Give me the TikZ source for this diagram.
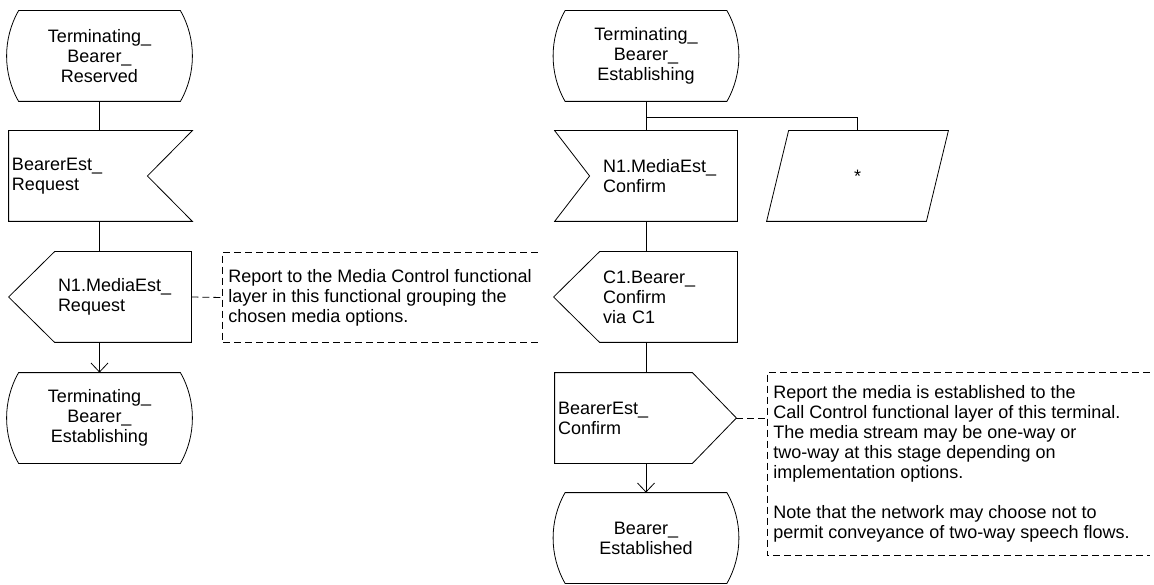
\documentclass[tikz,border=0pt]{standalone}
\usepackage{fontspec}
\setmainfont{Liberation Sans}
\usetikzlibrary{arrows.meta}
\usetikzlibrary{calc}

\tikzset{
  state/.style={minimum width=185pt, minimum height=90pt, align=center, inner sep=0pt},
  sig/.style={minimum height=90pt, text width=#1, align=left, inner ysep=0pt, inner xsep=3pt},
  note/.style={anchor=west, align=left, inner xsep=6pt, inner ysep=0pt},
  link/.style={dash pattern=on 7pt off 4pt}
}

\begin{document}
\begin{tikzpicture}[x=1pt, y=1pt, line width=0.8pt, font=\fontsize{18}{20}\selectfont,
    >={Straight Barb[length=9pt,width=17pt]}]
    \useasboundingbox (0,0) rectangle (1154,-585);

    % left column
    \node[state] (rsv) at (99.5,-56) {Terminating\_\\Bearer\_\\Reserved};
    \node[sig=177pt] (estreq) at (100.5,-176) {BearerEst\_\\Request};
    \node[sig=130pt] (medreq) at (123,-297) {N1.MediaEst\_\\Request};
    \node[state] (estL) at (99.5,-418) {Terminating\_\\Bearer\_\\Establishing};
    \node[note, minimum height=89pt] (noteL) at (222,-297.5)
        {Report to the Media Control functional\\layer in this functional grouping the\\chosen media options.};

    % right column
    \node[state] (estR) at (646,-56) {Terminating\_\\Bearer\_\\Establishing};
    \node[sig=121pt, inner xsep=13pt] (medcnf) at (663.5,-176) {N1.MediaEst\_\\Confirm};
    \node[minimum width=159pt, minimum height=90pt] (any) at (857.5,-176) {*};
    \node[sig=131pt] (bcnf) at (668.5,-297) {C1.Bearer\_\\Confirm\\via C1};
    \node[sig=131pt] (estcnf) at (623.5,-418) {BearerEst\_\\Confirm};
    \node[state] (done) at (646,-538) {Bearer\_\\Established};
    \node[note, minimum height=182pt] (noteR) at (767,-464)
        {Report the media is established to the\\Call Control functional layer of this terminal.\\The media stream may be one-way or\\two-way at this stage depending on\\implementation options.\\[20pt]Note that the network may choose not to\\permit conveyance of two-way speech flows.};

    % state outlines
    \foreach \st in {rsv,estL,estR,done}
        \draw ([xshift=12pt]\st.north west) -- ([xshift=-12pt]\st.north east)
            .. controls ([xshift=4pt,yshift=-28pt]\st.north east) and ([xshift=4pt,yshift=28pt]\st.south east) .. ([xshift=-12pt]\st.south east)
            -- ([xshift=12pt]\st.south west)
            .. controls ([xshift=-4pt,yshift=28pt]\st.south west) and ([xshift=-4pt,yshift=-28pt]\st.north west) .. cycle;

    % signal outlines
    \draw (estreq.north west) -- (estreq.north east) -- ([xshift=-45pt]estreq.east) -- (estreq.south east) -- (estreq.south west) -- cycle;
    \draw (medreq.north west) -- (medreq.north east) -- (medreq.south east) -- (medreq.south west) -- ([xshift=-46pt]medreq.west) -- cycle;
    \draw ([xshift=-35pt]medcnf.north west) -- (medcnf.north east) -- (medcnf.south east) -- ([xshift=-35pt]medcnf.south west) -- (medcnf.west) -- cycle;
    \draw ([xshift=11pt]any.north west) -- ([xshift=11pt]any.north east) -- ([xshift=-11pt]any.south east) -- ([xshift=-11pt]any.south west) -- cycle;
    \draw (bcnf.north west) -- (bcnf.north east) -- (bcnf.south east) -- (bcnf.south west) -- ([xshift=-46pt]bcnf.west) -- cycle;
    \draw (estcnf.north west) -- (estcnf.north east) -- ([xshift=44pt]estcnf.east) -- (estcnf.south east) -- (estcnf.south west) -- cycle;

    % connectors
    \draw (rsv.south) -- (rsv.south |- estreq.north);
    \draw (estreq.south -| rsv.south) -- (rsv.south |- medreq.north);
    \draw[->] (medreq.south -| estL.north) -- (estL.north);
    \draw[link] (medreq.east) -- (noteL.west);
    \draw[link] (noteL.north east) -- (noteL.north west) -- (noteL.south west) -- (noteL.south east);

    \coordinate (fork) at (646,-117);
    \draw (estR.south) -- (estR.south |- medcnf.north);
    \draw (fork) -| (any.north);
    \draw (medcnf.south -| estR.south) -- (estR.south |- bcnf.north);
    \draw (bcnf.south -| estR.south) -- (estR.south |- estcnf.north);
    \draw[->] (estcnf.south -| done.north) -- (done.north);
    \coordinate (tip) at ([xshift=44pt]estcnf.east);
    \draw[link] (tip) -- (tip -| noteR.west);
    \draw[link] ([xshift=14pt]noteR.north east) -- (noteR.north west) -- (noteR.south west) -- ([xshift=14pt]noteR.south east);
\end{tikzpicture}
\end{document}
